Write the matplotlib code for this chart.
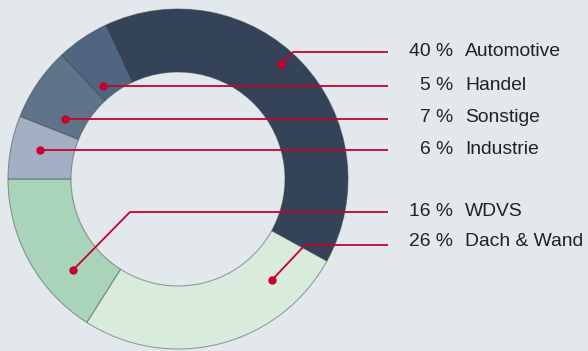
import matplotlib
matplotlib.use("Agg")
import matplotlib.pyplot as plt

# Data (counter-clockwise from the left horizontal)
categories = ["WDVS", "Dach & Wand", "Automotive", "Handel", "Sonstige", "Industrie"]
shares = [16, 26, 40, 5, 7, 6]
colors = ["#a9d4b9", "#d8ebdc", "#344358", "#50657f", "#5f7389", "#a3afc2"]

# Legend order (top to bottom) on the right
legend_order = ["Automotive", "Handel", "Sonstige", "Industrie", "WDVS", "Dach & Wand"]

BG = "#e3e8ec"
RED = "#c8002e"
W, H = 588, 351

fig = plt.figure(figsize=(W / 100, H / 100), dpi=100, facecolor=BG)
ax = fig.add_axes([0, 0, 1, 1])
ax.set_facecolor(BG)

cx, cy, R = 178, H - 179, 170
inner = 107
wedges, _ = ax.pie(shares, colors=colors, startangle=180, counterclock=True,
                   center=(cx, cy), radius=R, frame=True,
                   wedgeprops=dict(width=R - inner, edgecolor=(0.2, 0.25, 0.25, 0.45),
                                   linewidth=0.8))
ax.set_xlim(0, W)
ax.set_ylim(0, H)
ax.set_aspect("equal")
ax.axis("off")

# annotation anchor points (image pixel coords) and label rows
dots = {"Automotive": (281, 64), "Handel": (103, 86), "Sonstige": (65, 119),
        "Industrie": (40, 150), "WDVS": (73, 270), "Dach & Wand": (272, 280)}
bends = {"Automotive": (293, 52), "WDVS": (130, 212), "Dach & Wand": (305, 245)}
row_y = {"Automotive": 52, "Handel": 86, "Sonstige": 119, "Industrie": 150,
         "WDVS": 212, "Dach & Wand": 245}
text_y = {"Automotive": 52, "Handel": 85, "Sonstige": 117, "Industrie": 149,
          "WDVS": 212, "Dach & Wand": 242}
line_end = 388

for name in legend_order:
    val = shares[categories.index(name)]
    dx, dy = dots[name]
    pts = [(dx, dy)]
    if name in bends:
        pts.append(bends[name])
    pts.append((line_end, row_y[name]))
    xs = [p[0] for p in pts]
    ys = [H - p[1] for p in pts]
    ax.plot(xs, ys, color=RED, lw=1.3, solid_capstyle="butt", zorder=5)
    ax.plot([dx], [H - dy], "o", color=RED, ms=5, zorder=6)
    ty = H - text_y[name]
    ax.text(453, ty, f"{val} %", ha="right", va="center", fontsize=13.9,
            color="#222222", family="Liberation Sans")
    ax.text(465, ty, name, ha="left", va="center", fontsize=13.9,
            color="#222222", family="Liberation Sans")

fig.savefig("out.png", dpi=100, facecolor=BG)
